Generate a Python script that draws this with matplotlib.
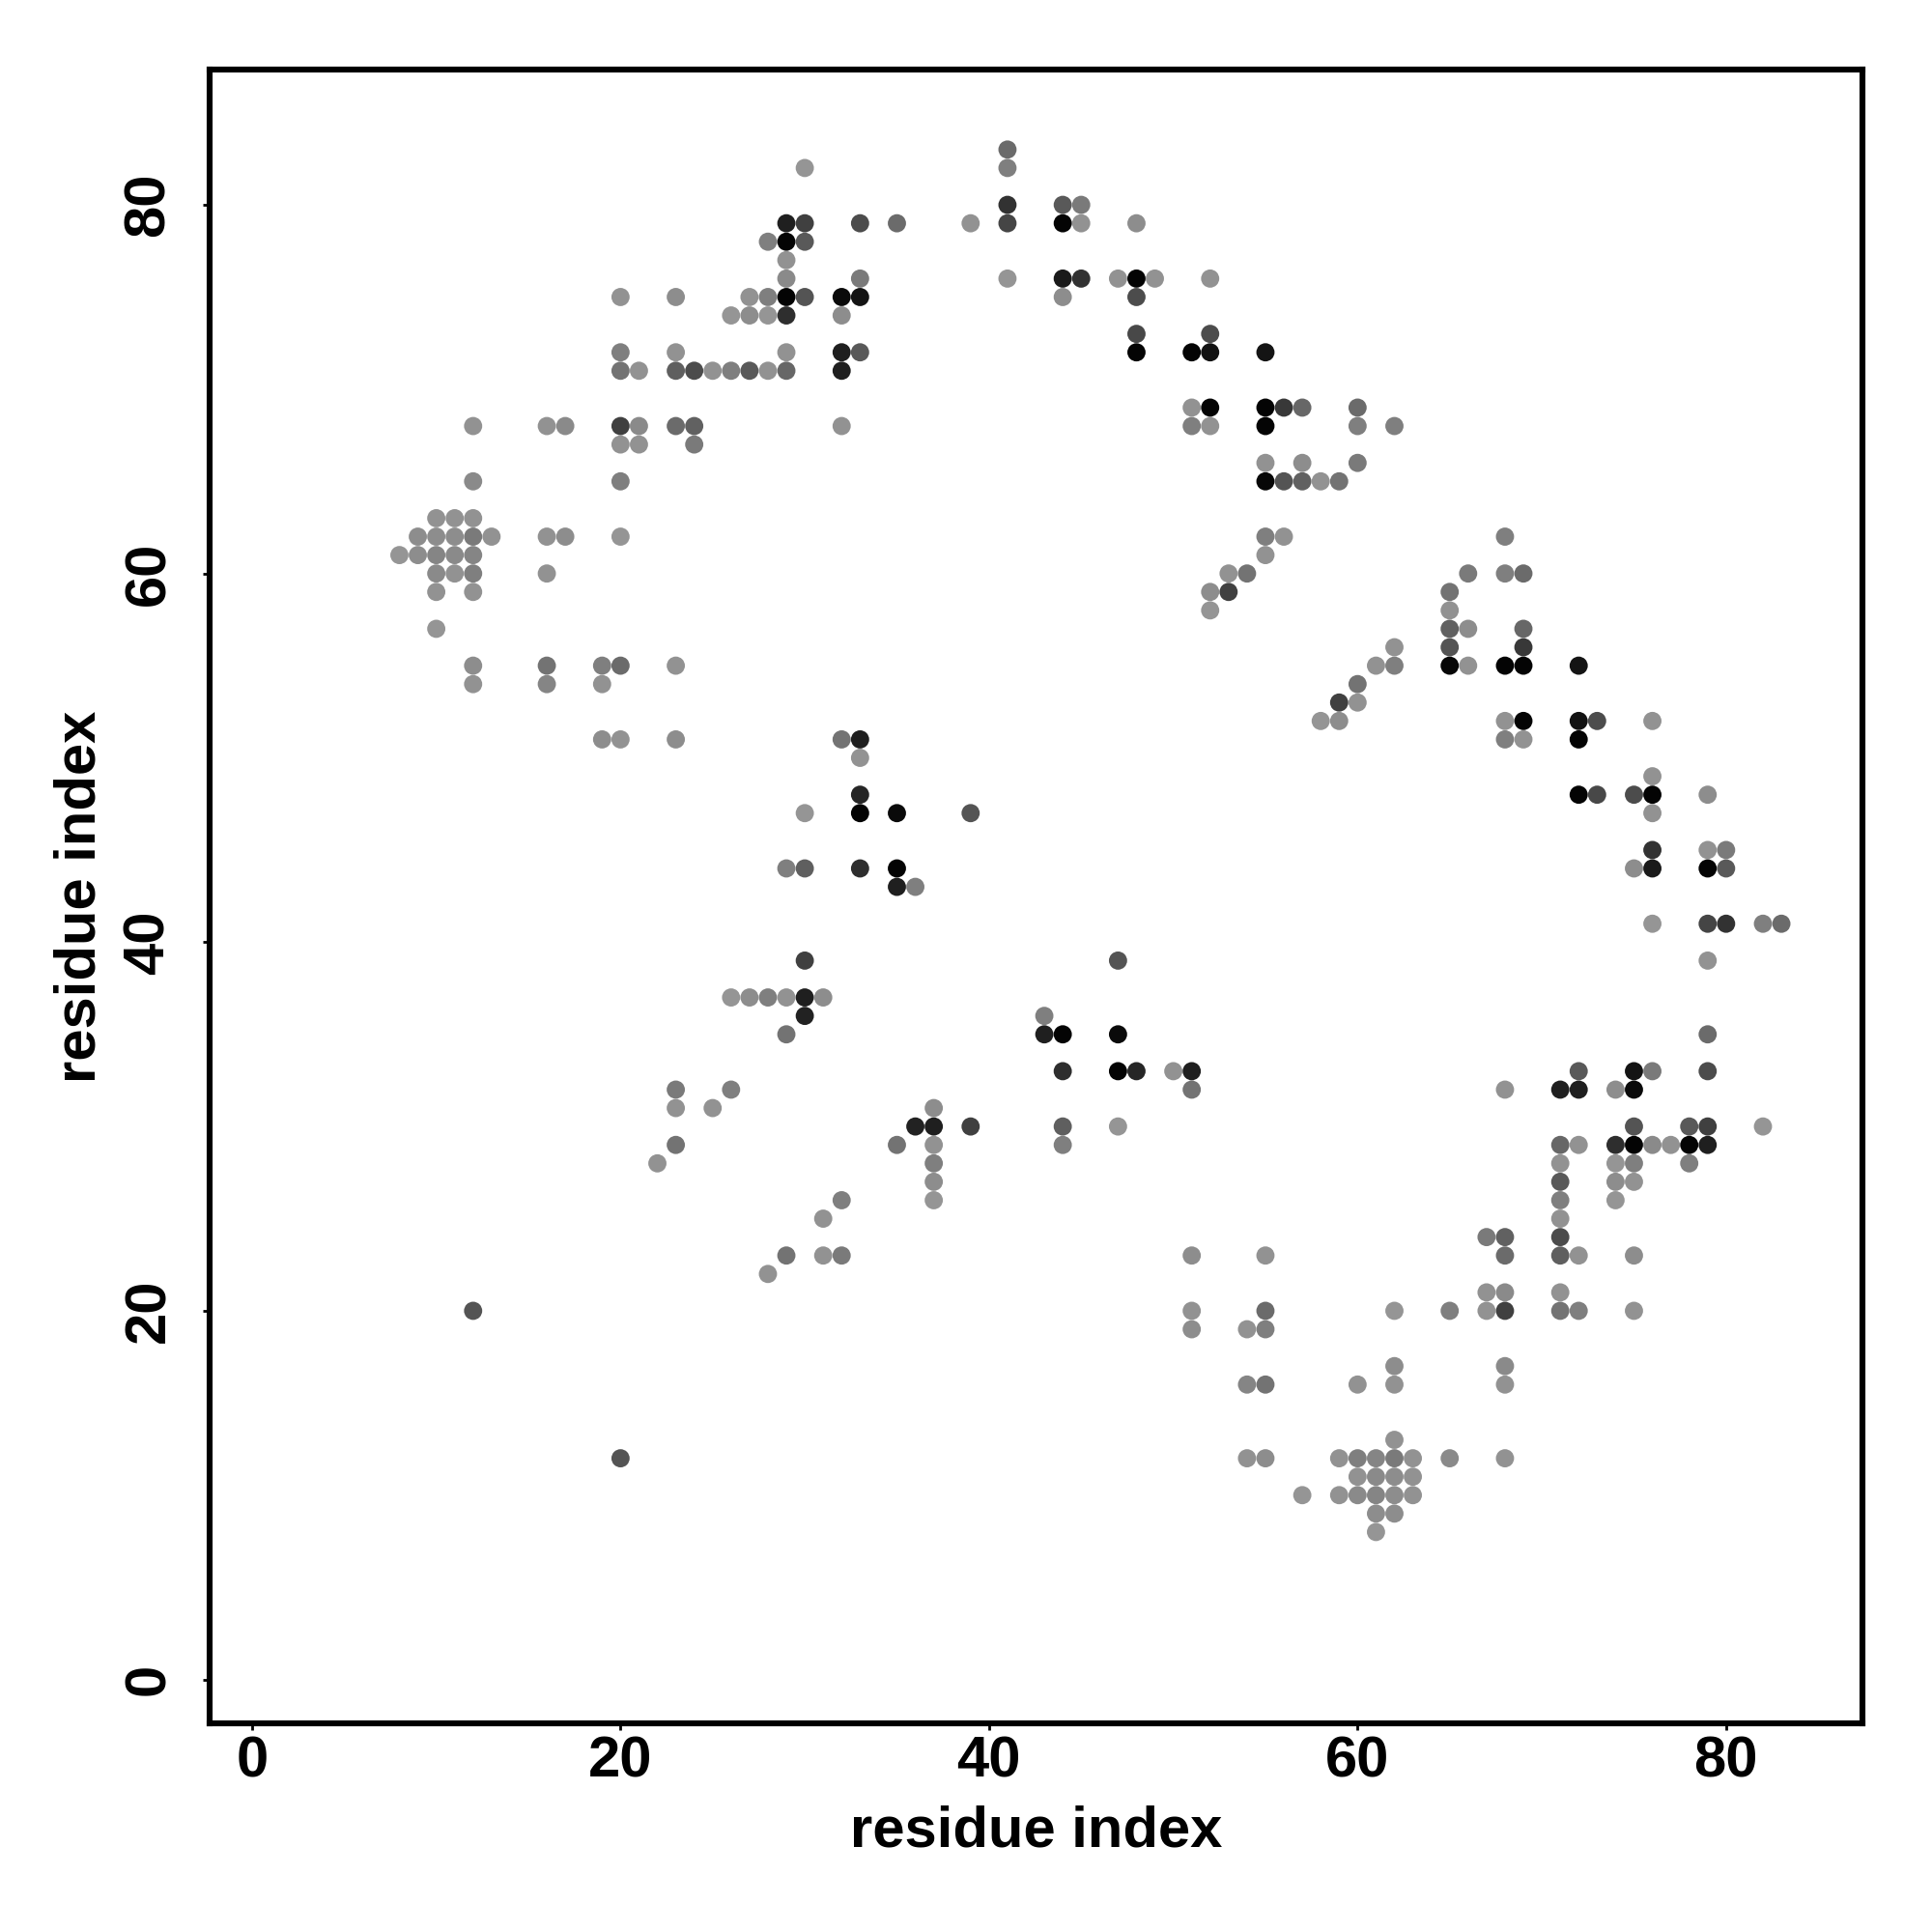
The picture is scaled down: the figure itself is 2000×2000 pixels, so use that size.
import matplotlib

matplotlib.use("Agg")
import matplotlib.pyplot as plt
import numpy as np
from matplotlib.colors import LinearSegmentedColormap

# contacts (upper triangle, res_j > res_i); the map is drawn symmetric
res_i = [
    41,
    30, 41,
    41, 44, 45,
    29, 30, 33, 35, 39, 41, 44, 45, 48,
    28, 29, 30,
    29,
    29, 33, 41, 44, 45, 47, 48, 49, 52,
    20, 23, 27, 28, 29, 30, 32, 33, 44, 48,
    26, 27, 28, 29, 32,
    48, 52,
    20, 23, 29, 32, 33, 48, 51, 52, 55,
    20, 21, 23, 24, 25, 26, 27, 28, 29, 32,
    51, 52, 55, 56, 57, 60,
    12, 16, 17, 20, 21, 23, 24, 32, 51, 52, 55, 60, 62,
    20, 21, 24,
    55, 57, 60,
    12, 20, 55, 56, 57, 58, 59,
    10, 11, 12,
    9, 10, 11, 12, 13, 16, 17, 20, 55, 56,
    8, 9, 10, 11, 12, 55,
    10, 11, 12, 16, 53, 54,
    10, 12, 52, 53,
    52,
    10,
    12, 16, 19, 20, 23,
    12, 16, 19,
    19, 20, 23, 32, 33,
    33,
    33,
    30, 33, 35, 39,
    29, 30, 33, 35,
    35, 36,
    30,
    26, 27, 28, 29, 30, 31,
    30,
    29,
    23, 26,
    23, 25,
    23,
    22,
    12,
]
res_j = [
    83,
    82, 82,
    80, 80, 80,
    79, 79, 79, 79, 79, 79, 79, 79, 79,
    78, 78, 78,
    77,
    76, 76, 76, 76, 76, 76, 76, 76, 76,
    75, 75, 75, 75, 75, 75, 75, 75, 75, 75,
    74, 74, 74, 74, 74,
    73, 73,
    72, 72, 72, 72, 72, 72, 72, 72, 72,
    71, 71, 71, 71, 71, 71, 71, 71, 71, 71,
    69, 69, 69, 69, 69, 69,
    68, 68, 68, 68, 68, 68, 68, 68, 68, 68, 68, 68, 68,
    67, 67, 67,
    66, 66, 66,
    65, 65, 65, 65, 65, 65, 65,
    63, 63, 63,
    62, 62, 62, 62, 62, 62, 62, 62, 62, 62,
    61, 61, 61, 61, 61, 61,
    60, 60, 60, 60, 60, 60,
    59, 59, 59, 59,
    58,
    57,
    55, 55, 55, 55, 55,
    54, 54, 54,
    51, 51, 51, 51, 51,
    50,
    48,
    47, 47, 47, 47,
    44, 44, 44, 44,
    43, 43,
    39,
    37, 37, 37, 37, 37, 37,
    36,
    35,
    32, 32,
    31, 31,
    29,
    28,
    20,
]
freq = [
    0.30,
    0.03, 0.17,
    0.67, 0.42, 0.20,
    0.80, 0.58, 0.50, 0.30, 0.05, 0.55, 0.97, 0.05, 0.08,
    0.17, 0.97, 0.42,
    0.05,
    0.10, 0.20, 0.03, 0.83, 0.67, 0.05, 0.97, 0.05, 0.05,
    0.05, 0.08, 0.05, 0.17, 0.97, 0.45, 0.93, 0.87, 0.08, 0.50,
    0.03, 0.08, 0.03, 0.70, 0.08,
    0.53, 0.50,
    0.17, 0.05, 0.05, 0.80, 0.42, 0.97, 0.97, 0.88, 0.87,
    0.25, 0.05, 0.38, 0.50, 0.05, 0.17, 0.42, 0.05, 0.33, 0.80,
    0.05, 0.97, 0.97, 0.63, 0.33, 0.30,
    0.05, 0.05, 0.10, 0.58, 0.10, 0.30, 0.37, 0.05, 0.17, 0.05, 0.97, 0.17, 0.17,
    0.05, 0.05, 0.20,
    0.05, 0.08, 0.20,
    0.10, 0.17, 0.95, 0.45, 0.37, 0.05, 0.25,
    0.05, 0.05, 0.05,
    0.08, 0.08, 0.08, 0.20, 0.05, 0.05, 0.08, 0.03, 0.17, 0.05,
    0.03, 0.08, 0.13, 0.10, 0.13, 0.05,
    0.10, 0.05, 0.17, 0.05, 0.05, 0.25,
    0.05, 0.05, 0.08, 0.58,
    0.03,
    0.03,
    0.08, 0.25, 0.17, 0.30, 0.05,
    0.05, 0.13, 0.05,
    0.08, 0.05, 0.08, 0.25, 0.80,
    0.05,
    0.75,
    0.03, 0.97, 0.93, 0.45,
    0.17, 0.38, 0.70, 0.97,
    0.80, 0.17,
    0.58,
    0.03, 0.08, 0.17, 0.05, 0.80, 0.08,
    0.78,
    0.25,
    0.20, 0.17,
    0.05, 0.05,
    0.25,
    0.05,
    0.45,
]
ticks = [0, 20, 40, 60, 80]

plt.rcParams["font.family"] = ["Liberation Sans", "DejaVu Sans"]
plt.rcParams["font.weight"] = "bold"

xs = np.concatenate([res_i, res_j])
ys = np.concatenate([res_j, res_i])
vals = np.concatenate([freq, freq])

greys = LinearSegmentedColormap.from_list("greys", [(0.6, 0.6, 0.6), (0, 0, 0)])

fig = plt.figure(figsize=(10, 10), dpi=200)
ax = fig.add_axes([0.1085, 0.108, 0.8555, 0.856])

order = np.argsort(vals)
ax.scatter(xs[order], ys[order], c=vals[order], cmap=greys, vmin=0, vmax=1,
           s=46, linewidths=0)

ax.set_xlim(-2.3, 87.4)
ax.set_ylim(-2.38, 87.34)
ax.set_xticks(ticks)
ax.set_yticks(ticks)
ax.tick_params(direction="out", length=2.6, width=1.0, labelsize=21.5)
ax.tick_params(axis="x", pad=2)
ax.tick_params(axis="y", pad=10)
for lab in ax.get_yticklabels():
    lab.set_rotation(90)
    lab.set_va("center")
for spine in ax.spines.values():
    spine.set_linewidth(2.2)

ax.set_xlabel("residue index", fontsize=21.5, fontweight="bold", labelpad=6)
ax.set_ylabel("residue index", fontsize=21.5, fontweight="bold", labelpad=6)

fig.savefig("out.png", dpi=200)
